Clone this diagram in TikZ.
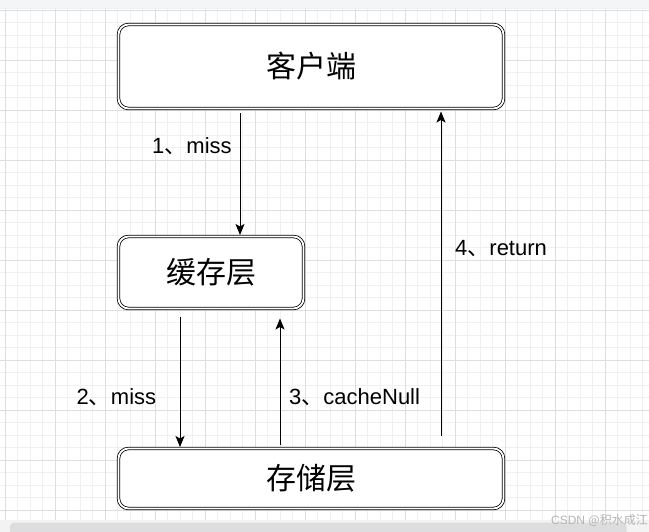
\documentclass[tikz,border=0pt]{standalone}
\usepackage{fontspec}
\setmainfont{Liberation Sans}
\newfontfamily\cjk{Noto Sans CJK SC}
\usetikzlibrary{arrows.meta}
\definecolor{gridminor}{HTML}{F0F0F0}
\definecolor{gridmajor}{HTML}{DEDEDE}
\definecolor{topband}{HTML}{F4F5F7}
\definecolor{botband}{HTML}{F3F3F3}
\definecolor{scrollbar}{HTML}{DDDDDF}
\definecolor{wmark}{HTML}{B4B4B4}
\tikzset{
  box/.style={draw=black, line width=0.8pt, double=white, double distance=1.8pt,
    rounded corners=10pt, inner sep=0pt, outer sep=0pt, fill=white,
    font=\cjk\fontsize{30}{34}\selectfont},
  arr/.style={draw=black, line width=1pt, -{Stealth[length=11pt,width=9pt,inset=2.5pt]}},
  lbl/.style={inner sep=0pt, anchor=base west, font=\fontsize{22}{26}\selectfont},
}
\newcommand{\dun}{{\cjk 、}}
\begin{document}
\begin{tikzpicture}[x=1pt,y=-1pt]
\useasboundingbox (0,0) rectangle (649,532);
\fill[white] (0,0) rectangle (649,532);
% grid
\foreach \i in {0,...,52} {
  \draw[gridminor, line width=0.6pt] ({5+12.5*\i},8) -- ({5+12.5*\i},520);
}
\foreach \j in {0,...,41} {
  \draw[gridminor, line width=0.6pt] (0,{10+12.5*\j}) -- (649,{10+12.5*\j});
}
\foreach \i in {0,...,13} {
  \draw[gridmajor, line width=0.7pt] ({5+50*\i},8) -- ({5+50*\i},520);
}
\foreach \j in {0,...,10} {
  \draw[gridmajor, line width=0.7pt] (0,{10+50*\j}) -- (649,{10+50*\j});
}
% top and bottom bands
\fill[topband] (0,0) rectangle (649,8);
\draw[gridminor, line width=0.6pt] (0,8) -- (649,8);
\fill[botband] (0,519.5) rectangle (649,532);
\fill[scrollbar, rounded corners=4pt] (10,522.5) rectangle (626.5,536);

% nodes
\node[box, minimum width=385pt, minimum height=84pt] (client) at (311,66.5) {客户端};
\node[box, minimum width=185pt, minimum height=72pt] (cache) at (211,272.5) {缓存层};
\node[box, minimum width=385pt, minimum height=60pt] (store) at (311,478.5) {存储层};

% arrow x positions
\coordinate (xa) at (240,0);
\coordinate (xb) at (180,0);
\coordinate (xc) at (280,0);
\coordinate (xd) at (441,0);

\draw[arr, shorten <=5pt, shorten >=1.5pt] (client.south -| xa) -- (cache.north -| xa);
\draw[arr, shorten <=9pt, shorten >=1.5pt] (cache.south -| xb) -- (store.north -| xb);
\draw[arr, shorten <=4pt, shorten >=10pt] (store.north -| xc) -- (cache.south -| xc);
\draw[arr, shorten <=13pt, shorten >=3pt] (store.north -| xd) -- (client.south -| xd);

% labels
\node[lbl] (l1) at (152,153.5) {1\dun miss};
\node[lbl] (l2) at (76.5,404.5) {2\dun miss};
\node[lbl] (l3) at (289,404.5) {3\dun cacheNull};
\node[lbl] (l4) at (455,255.5) {4\dun return};

% watermark
\node[inner sep=0pt, anchor=east, text=wmark, font=\fontsize{12}{14}\selectfont] (wm) at (648,520.5) {CSDN {\cjk @积水成江}};
\end{tikzpicture}
\end{document}
